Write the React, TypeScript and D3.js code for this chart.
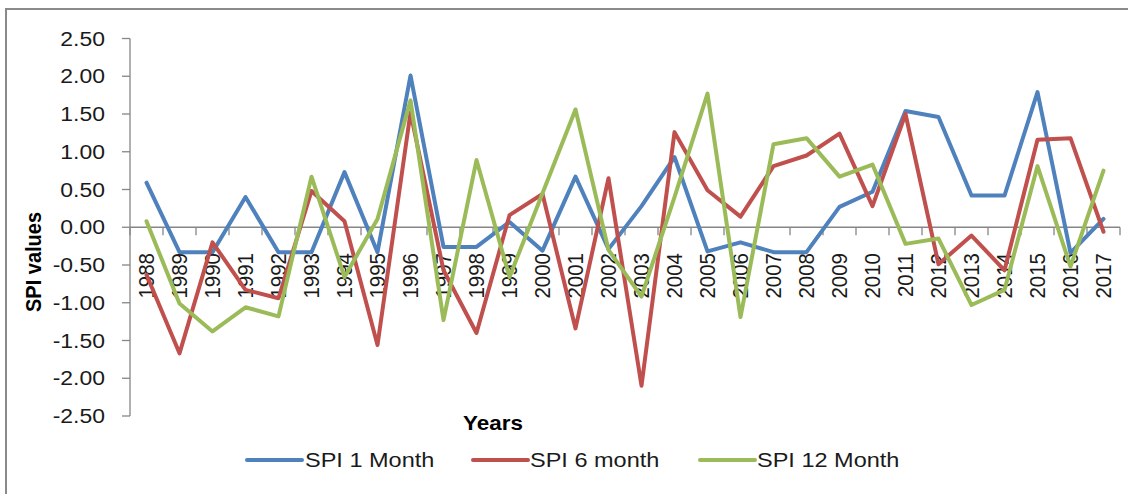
import React from "react";
import * as d3 from "d3";

const years = [
  "1988","1989","1990","1991","1992","1993","1994","1995","1996","1997",
  "1998","1999","2000","2001","2002","2003","2004","2005","2006","2007",
  "2008","2009","2010","2011","2012","2013","2014","2015","2016","2017",
];

const spi1 = [0.59, -0.33, -0.33, 0.40, -0.33, -0.33, 0.73, -0.33, 2.01, -0.26,
  -0.26, 0.07, -0.31, 0.67, -0.29, 0.28, 0.93, -0.32, -0.20, -0.33,
  -0.33, 0.27, 0.47, 1.54, 1.46, 0.42, 0.42, 1.79, -0.34, 0.11];

const spi6 = [-0.63, -1.67, -0.20, -0.83, -0.94, 0.48, 0.08, -1.56, 1.52, -0.57,
  -1.40, 0.16, 0.44, -1.34, 0.65, -2.10, 1.26, 0.49, 0.14, 0.81,
  0.95, 1.24, 0.28, 1.50, -0.49, -0.11, -0.57, 1.16, 1.18, -0.06];

const spi12 = [0.08, -1.01, -1.38, -1.06, -1.18, 0.67, -0.66, 0.11, 1.68, -1.23,
  0.89, -0.66, 0.45, 1.56, -0.30, -0.92, 0.40, 1.77, -1.19, 1.10,
  1.18, 0.67, 0.83, -0.22, -0.15, -1.03, -0.83, 0.81, -0.52, 0.75];

const yTicks = [2.5, 2.0, 1.5, 1.0, 0.5, 0.0, -0.5, -1.0, -1.5, -2.0, -2.5];

const seriesNames = ["SPI 1 Month", "SPI 6 month", "SPI 12 Month"];
const seriesColors = ["#4F81BD", "#C0504D", "#9BBB59"];

const W = 1128;
const H = 494;
const FONT = "'Liberation Sans', Arial, sans-serif";
const SX = 1.12;

export default function App() {
  const x = d3.scaleBand<string>().domain(years).range([130, 1120]).padding(0);
  const y = d3.scaleLinear().domain([-2.5, 2.5]).range([416, 38.5]);
  const cx = (yr: string) => (x(yr) as number) + x.bandwidth() / 2;
  const line = d3
    .line<number>()
    .x((_, i) => cx(years[i]))
    .y((v) => y(v));
  const allSeries = [spi1, spi6, spi12];
  const y0 = y(0);
  const legendPos = [
    { lx: 247, tx: 305 },
    { lx: 473, tx: 530 },
    { lx: 700, tx: 757 },
  ];
  const boundaries = d3.range(years.length + 1).map((i) => 130 + i * x.bandwidth());

  return (
    <svg
      width={W}
      height={H}
      style={{ position: "absolute", left: 0, top: 0, background: "#fff" }}
      fontFamily={FONT}
    >
      <rect x={0} y={0} width={W} height={H} fill="#fff" />
      <rect x={6} y={9} width={W + 20} height={H + 20} fill="none" stroke="#8a8a8a" strokeWidth={2} />

      {/* y axis */}
      <line x1={130} x2={130} y1={y(2.5)} y2={y(-2.5)} stroke="#868686" strokeWidth={1.3} />
      {yTicks.map((t) => (
        <g key={t}>
          <line x1={122} x2={130} y1={y(t)} y2={y(t)} stroke="#868686" strokeWidth={1.3} />
          <text
            transform={`translate(105,${y(t)}) scale(${SX},1)`}
            textAnchor="end"
            dominantBaseline="central"
            fontSize={20.5}
            fill="#1a1a1a"
          >
            {t.toFixed(2)}
          </text>
        </g>
      ))}

      {/* x axis at zero */}
      <line x1={130} x2={1120} y1={y0} y2={y0} stroke="#868686" strokeWidth={1.3} />
      {boundaries.map((bx, i) => (
        <line key={i} x1={bx} x2={bx} y1={y0} y2={y0 + 8} stroke="#868686" strokeWidth={1.3} />
      ))}
      {years.map((yr) => (
        <text
          key={yr}
          transform={`translate(${cx(yr)},253) scale(${SX},1) rotate(-90)`}
          textAnchor="end"
          dominantBaseline="central"
          fontSize={20.5}
          fill="#1a1a1a"
        >
          {yr}
        </text>
      ))}

      {/* series */}
      {allSeries.map((s, k) => (
        <path
          key={k}
          d={line(s) as string}
          fill="none"
          stroke={seriesColors[k]}
          strokeWidth={4}
          strokeLinejoin="round"
          strokeLinecap="round"
        />
      ))}

      {/* axis titles */}
      <text
        transform={`translate(33,262) scale(${SX},1) rotate(-90)`}
        textAnchor="middle"
        dominantBaseline="central"
        fontSize={20}
        fontWeight="bold"
        fill="#000"
      >
        SPI values
      </text>
      <text
        transform={`translate(493,430) scale(${SX},1)`}
        textAnchor="middle"
        fontSize={20}
        fontWeight="bold"
        fill="#000"
      >
        Years
      </text>

      {/* legend */}
      {seriesNames.map((n, k) => (
        <g key={n}>
          <line
            x1={legendPos[k].lx}
            x2={legendPos[k].lx + 55}
            y1={460}
            y2={460}
            stroke={seriesColors[k]}
            strokeWidth={4}
            strokeLinecap="round"
          />
          <text
            transform={`translate(${legendPos[k].tx},460) scale(${SX},1)`}
            dominantBaseline="central"
            fontSize={21}
            fill="#1a1a1a"
          >
            {n}
          </text>
        </g>
      ))}
    </svg>
  );
}
